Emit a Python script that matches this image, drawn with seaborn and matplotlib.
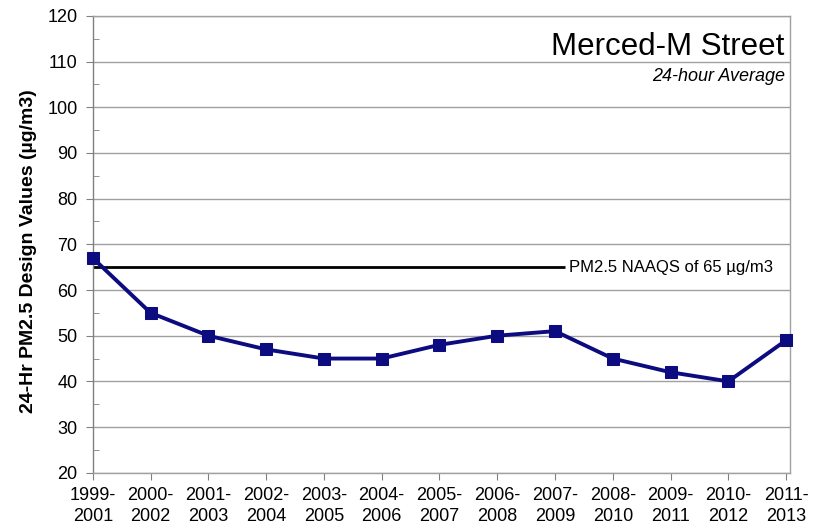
import matplotlib
matplotlib.use("Agg")
import matplotlib.pyplot as plt
from matplotlib.ticker import MultipleLocator
import seaborn as sns
import pandas as pd

# Design value periods and 24-hr PM2.5 design values
periods = ["1999-\n2001", "2000-\n2002", "2001-\n2003", "2002-\n2004", "2003-\n2005",
           "2004-\n2006", "2005-\n2007", "2006-\n2008", "2007-\n2009", "2008-\n2010",
           "2009-\n2011", "2010-\n2012", "2011-\n2013"]
design_values = [67, 55, 50, 47, 45, 45, 48, 50, 51, 45, 42, 40, 49]

# NAAQS standard
naaqs = 65
naaqs_end = 8.17

df = pd.DataFrame({"period": periods, "value": design_values})

sns.set_style("white")
plt.rcParams["font.family"] = ["Liberation Sans", "DejaVu Sans"]
plt.rcParams["text.color"] = "black"
plt.rcParams["xtick.color"] = "black"
plt.rcParams["ytick.color"] = "black"
plt.rcParams["axes.labelcolor"] = "black"

fig = plt.figure(figsize=(8.14, 5.30), dpi=100)
ax = fig.add_axes([0.114, 0.108, 0.856, 0.862])

sns.lineplot(data=df, x="period", y="value", ax=ax, color="#0c0c80",
             linewidth=2.8, marker="s", markersize=8, markeredgecolor="#0c0c80",
             sort=False, clip_on=False, zorder=5)

# standard line and label
ax.hlines(naaqs, 0, naaqs_end, color="black", linewidth=2, zorder=2)
ax.text(naaqs_end + 0.08, naaqs, "PM2.5 NAAQS of 65 µg/m3", va="center", ha="left",
        fontsize=12)

ax.set_ylim(20, 120)
ax.set_xlim(0, 12.06)
ax.yaxis.set_major_locator(MultipleLocator(10))
ax.yaxis.set_minor_locator(MultipleLocator(5))
ax.grid(axis="y", which="major", color="#a0a0a0", linewidth=1)
ax.set_axisbelow(True)

ax.set_xlabel("")
ax.set_ylabel("24-Hr PM2.5 Design Values (µg/m3)", fontsize=14, fontweight="bold")
ax.yaxis.set_label_coords(-0.08, 0.485)
ax.tick_params(axis="x", which="major", direction="out", length=5, color="#808080",
               labelsize=13, pad=5)
ax.tick_params(axis="y", which="major", direction="out", length=5, color="#808080",
               labelsize=13, left=True, pad=6)
ax.tick_params(axis="y", which="minor", direction="in", length=4, color="#808080", left=True)
ax.tick_params(axis="x", bottom=True)
for lbl in ax.get_xticklabels():
    lbl.set_linespacing(1.3)

for side in ["top", "right", "bottom"]:
    ax.spines[side].set_color("#a0a0a0")
ax.spines["left"].set_color("#808080")
for s in ax.spines.values():
    s.set_linewidth(1)

ax.text(0.993, 0.965, "Merced-M Street", transform=ax.transAxes, ha="right", va="top",
        fontsize=22.5)
ax.text(0.993, 0.885, "24-hour Average", transform=ax.transAxes, ha="right", va="top",
        fontsize=13, style="italic")

fig.savefig("out.png", dpi=100)
